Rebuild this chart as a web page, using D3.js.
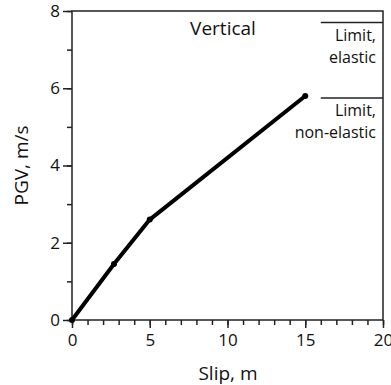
<!DOCTYPE html>
<html><head><meta charset="utf-8">
<script src="https://cdn.jsdelivr.net/npm/d3@7"></script>
<style>body{margin:0;background:#fff}svg{display:block}text{font-family:"Open Sans",sans-serif;fill:#111}</style>
</head><body>
<svg id="c" width="391" height="385"></svg>
<script>
const slip = [0, 2.7, 5, 15];
const pgv = [0, 1.45, 2.6, 5.8];
const limits = [{value: 7.7, lines: ["Limit,", "elastic"]}, {value: 5.75, lines: ["Limit,", "non-elastic"]}];
const xTicks = [0, 5, 10, 15, 20];
const yTicks = [0, 2, 4, 6, 8];
const title = "Vertical";

const svg = d3.select("#c");
const m = {l: 72, r: 383, t: 11, b: 320};
const x = d3.scaleLinear().domain([0, 20]).range([m.l, m.r]);
const y = d3.scaleLinear().domain([0, 8]).range([m.b, m.t]);

// frame
svg.append("rect").attr("x", m.l).attr("y", m.t).attr("width", m.r - m.l).attr("height", m.b - m.t)
  .attr("fill", "none").attr("stroke", "#222").attr("stroke-width", 1.5);

// x axis
const gx = svg.append("g").attr("transform", `translate(0,${m.b})`);
gx.call(d3.axisBottom(x).tickValues(d3.range(0, 21, 1)).tickSize(5).tickFormat(""));
gx.select(".domain").remove();
const gx2 = svg.append("g").attr("transform", `translate(0,${m.b})`);
gx2.call(d3.axisBottom(x).tickValues(xTicks).tickSize(8).tickPadding(6).tickFormat(d3.format("d")));
gx2.select(".domain").remove();
gx2.selectAll("text").attr("font-size", 17).attr("font-family", "Open Sans").attr("fill", "#111");

// y axis
const gy = svg.append("g").attr("transform", `translate(${m.l},0)`);
gy.call(d3.axisLeft(y).tickValues(d3.range(0, 9, 1)).tickSize(5).tickFormat(""));
gy.select(".domain").remove();
const gy2 = svg.append("g").attr("transform", `translate(${m.l},0)`);
gy2.call(d3.axisLeft(y).tickValues(yTicks).tickSize(9).tickPadding(3).tickFormat(d3.format("d")));
gy2.select(".domain").remove();
gy2.selectAll("text").attr("font-size", 17).attr("font-family", "Open Sans").attr("fill", "#111");
svg.selectAll("g line").attr("stroke", "#222").attr("stroke-width", 1.5);

// axis titles
svg.append("text").attr("x", 228).attr("y", 380).attr("text-anchor", "middle")
  .attr("font-size", 19).text("Slip, m");
svg.append("text").attr("transform", `translate(28,${(m.t + m.b) / 2}) rotate(-90)`).attr("text-anchor", "middle")
  .attr("font-size", 19).text("PGV, m/s");

// title
svg.append("text").attr("x", 223).attr("y", 35).attr("text-anchor", "middle").attr("font-size", 19).text(title);

// limits
limits.forEach(L => {
  svg.append("line").attr("x1", x(16)).attr("x2", x(20)).attr("y1", y(L.value)).attr("y2", y(L.value))
    .attr("stroke", "#222").attr("stroke-width", 1.5);
  L.lines.forEach((t, i) => {
    svg.append("text").attr("x", 376).attr("y", y(L.value) + 18 + i * 22).attr("text-anchor", "end")
      .attr("font-size", 16).text(t);
  });
});

// data line
const pts = slip.map((s, i) => [s, pgv[i]]);
svg.append("path").datum(pts).attr("d", d3.line().x(d => x(d[0])).y(d => y(d[1])))
  .attr("fill", "none").attr("stroke", "#000").attr("stroke-width", 4).attr("stroke-linejoin", "round");
svg.selectAll("circle.p").data(pts).join("circle").attr("class", "p")
  .attr("cx", d => x(d[0])).attr("cy", d => y(d[1])).attr("r", 3).attr("fill", "#000");
</script>
</body></html>
